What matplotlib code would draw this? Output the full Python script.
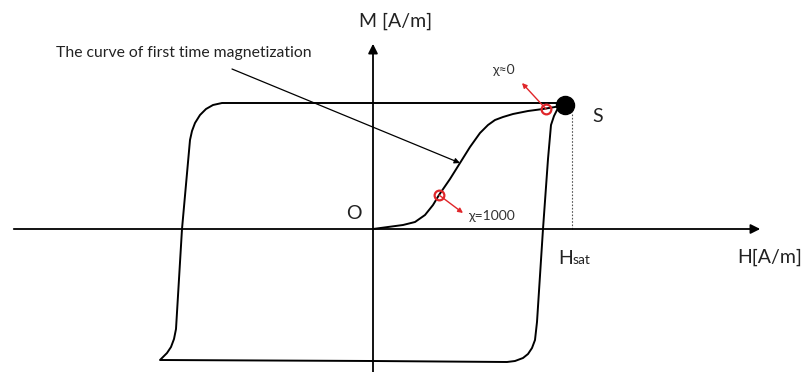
import numpy as np
import matplotlib.pyplot as plt

plt.rcParams['font.family'] = ['Lato', 'DejaVu Sans']

# hysteresis loop (H, M), traced from the saturation point S, counter-clockwise
loop_H = [192, 150, 0, -151, -160, -167, -173, -178, -181, -183, -191, -197, -199, -202, -206, -213,
          0, 134, 142, 150, 155, 159, 162, 164, 170, 175, 178, 181, 184, 188, 192]
loop_M = [126, 126, 126, 126, 124, 120, 114, 106, 98, 89, 0, -100, -110, -118, -124, -131,
          -132, -133, -132, -129, -125, -119, -111, -93, 0, 70, 104, 113, 119, 122, 124]

# curve of first time magnetization
virgin_H = [0, 15, 30, 42, 52, 60, 66, 77, 87, 97, 107, 115, 122, 130, 140, 155, 170, 182, 192]
virgin_M = [0, 2, 4, 7, 14, 24, 34, 50, 66, 82, 96, 104, 109, 112, 115, 118, 120, 122, 124]

S = (192, 124)
H_sat = 199
chi_points = [(66, 34), (173, 120)]
chi_labels = ["χ=1000", "χ≈0"]
chi_arrow_tips = [(90, 16), (149, 146)]
chi_text_pos = [(95, 13), (119, 159)]

fig = plt.figure(figsize=(8.03, 3.72), dpi=100)
ax = fig.add_axes([0, 0, 1, 1])
ax.set_xlim(-373, 430)
ax.set_ylim(-143, 229)
ax.axis('off')

# axes with arrows
ax.annotate('', xy=(390, 0), xytext=(-362, 0),
            arrowprops=dict(arrowstyle='-|>', color='black', lw=1.3, mutation_scale=14))
ax.annotate('', xy=(0, 188), xytext=(0, -150),
            arrowprops=dict(arrowstyle='-|>', color='black', lw=1.3, mutation_scale=14))

ax.plot(loop_H, loop_M, color='black', lw=1.4, solid_joinstyle='round')
ax.plot(virgin_H, virgin_M, color='black', lw=1.4, solid_joinstyle='round')

# saturation point and H_sat marker
ax.plot([H_sat, H_sat], [0, 117], color='#555555', lw=0.8, ls=(0, (1.5, 1.5)))
ax.plot(*S, 'o', color='black', markersize=13)

# susceptibility markers
for (h, m), tip, lab, tp in zip(chi_points, chi_arrow_tips, chi_labels, chi_text_pos):
    ax.plot(h, m, 'o', mfc='none', mec='#e0262a', mew=1.6, markersize=7)
    ax.annotate('', xy=tip, xytext=(h, m),
                arrowprops=dict(arrowstyle='-|>', color='#e0262a', lw=1.0, mutation_scale=7,
                                shrinkA=0, shrinkB=0))
    ax.text(tp[0], tp[1], lab, fontsize=10, color='#333333', ha='left', va='center')

# annotation for the first magnetization curve
ax.annotate('', xy=(87, 66), xytext=(-141, 160),
            arrowprops=dict(arrowstyle='-|>', color='black', lw=0.9, mutation_scale=8,
                            shrinkA=0, shrinkB=0))
ax.text(-317, 176, "The curve of first time magnetization", fontsize=11.3,
        ha='left', va='center', color='#222222')

# labels
ax.text(23, 208, "M [A/m]", fontsize=14, ha='center', va='center', color='#222222')
ax.text(364, -28, "H[A/m]", fontsize=14, ha='left', va='center', color='#222222')
ax.text(219, 112, "S", fontsize=14, ha='left', va='center', color='#222222')
ax.text(-11, 15, "O", fontsize=14, ha='right', va='center', color='#222222')
ax.text(185, -35, "H", fontsize=14, ha='left', va='baseline', color='#222222')
ax.text(199.5, -35, "sat", fontsize=10, ha='left', va='baseline', color='#222222')

fig.savefig("out.png", dpi=100)
